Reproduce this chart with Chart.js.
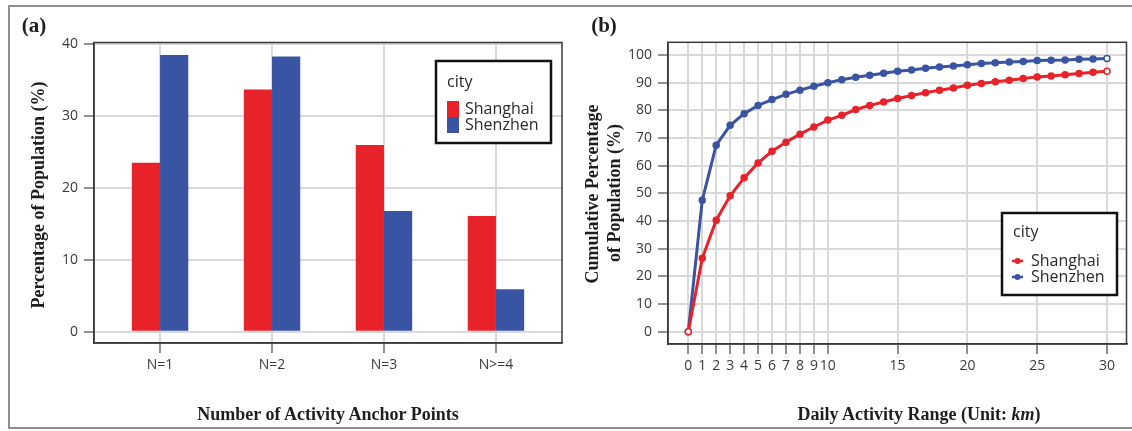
<!DOCTYPE html>
<html lang="en">
<head>
<meta charset="UTF-8">
<title>Activity anchor points and daily activity range</title>
<script src="https://cdn.jsdelivr.net/npm/chart.js@4.4.1/dist/chart.umd.min.js"></script>
<style>
  html, body { margin: 0; padding: 0; background: #fff; }
  body { width: 1132px; height: 431px; position: relative; overflow: hidden; }
  #frame { position: absolute; left: 8px; top: 5px; width: 1140px; height: 424px; border: 2px solid #8f8f8f; box-sizing: border-box; }
  canvas { position: absolute; top: 0; }
  .lbl { position: absolute; font-family: "Liberation Serif", "DejaVu Serif", serif; font-weight: bold; color: #1e1e1e; white-space: nowrap; transform: translate(-50%, -50%); }
  .panel-tag { font-size: 21px; }
  .axis-t { font-size: 18px; }
  .rot { transform: translate(-50%, -50%) rotate(-90deg); }
</style>
</head>
<body>
  <div id="frame"></div>
  <canvas id="anchorChart" width="566" height="431" style="left:0"></canvas>
  <canvas id="rangeChart" width="566" height="431" style="left:566px"></canvas>

  <div class="lbl panel-tag" style="left:34px; top:25px">(a)</div>
  <div class="lbl panel-tag" style="left:604px; top:25px">(b)</div>
  <div class="lbl axis-t rot" style="left:38px; top:195px">Percentage of Population (%)</div>
  <div class="lbl axis-t" style="left:328px; top:414px">Number of Activity Anchor Points</div>
  <div class="lbl axis-t rot" style="left:592px; top:194px">Cumulative Percentage</div>
  <div class="lbl axis-t rot" style="left:614px; top:193px">of Population (%)</div>
  <div class="lbl axis-t" style="left:919px; top:414px">Daily Activity Range (Unit: <i>km</i>)</div>

<script>
// data
const cities = ['Shanghai', 'Shenzhen'];
const categories = ['N=1', 'N=2', 'N=3', 'N>=4'];
const shanghaiShare = [23.5, 33.7, 26.0, 16.1];
const shenzhenShare = [38.5, 38.3, 16.8, 5.9];
const shareTicks = [0, 10, 20, 30, 40];

const rangeKm = [0, 1, 2, 3, 4, 5, 6, 7, 8, 9, 10, 11, 12, 13, 14, 15,
                 16, 17, 18, 19, 20, 21, 22, 23, 24, 25, 26, 27, 28, 29, 30];
const shanghaiCum = [0, 26.5, 40.3, 49.1, 55.6, 61.0, 65.2, 68.5, 71.4, 74.0, 76.5,
                     78.2, 80.3, 81.8, 83.0, 84.3, 85.4, 86.4, 87.3, 88.1, 89.1,
                     89.7, 90.3, 90.9, 91.5, 92.1, 92.4, 92.9, 93.3, 93.8, 94.1];
const shenzhenCum = [0, 47.5, 67.4, 74.6, 78.8, 81.8, 83.9, 85.8, 87.3, 88.7, 90.0,
                     91.1, 92.0, 92.7, 93.4, 94.1, 94.6, 95.2, 95.7, 96.0, 96.5,
                     96.9, 97.2, 97.5, 97.7, 98.0, 98.1, 98.2, 98.5, 98.6, 98.7];
const rangeTicks = [0, 1, 2, 3, 4, 5, 6, 7, 8, 9, 10, 15, 20, 25, 30];
const cumTicks = [0, 10, 20, 30, 40, 50, 60, 70, 80, 90, 100];

const RED = '#e8222a';
const BLUE = '#3a54a4';
const tickFont = { family: '"Open Sans", sans-serif', size: 14 };

// box round the plot area
const framePlugin = {
  id: 'frame',
  afterDatasetsDraw(chart) {
    const { ctx, chartArea: a } = chart;
    ctx.save();
    ctx.strokeStyle = '#3a3a3a';
    ctx.lineWidth = 1.5;
    ctx.strokeRect(a.left, a.top, a.right - a.left, a.bottom - a.top);
    ctx.restore();
  }
};

// boxed legend with "city" title
const cityLegend = {
  id: 'cityLegend',
  afterDraw(chart, args, o) {
    const ctx = chart.ctx;
    ctx.save();
    ctx.fillStyle = '#fff';
    ctx.fillRect(o.x, o.y, o.w, o.h);
    ctx.lineWidth = 2.5;
    ctx.strokeStyle = '#111';
    ctx.strokeRect(o.x, o.y, o.w, o.h);
    ctx.font = '16px "Open Sans", sans-serif';
    ctx.textBaseline = 'middle';
    ctx.fillStyle = '#2a2a2a';
    ctx.fillText('city', o.x + 11, o.titleY);
    chart.data.datasets.forEach((ds, i) => {
      const y = o.rowY[i];
      if (o.marker === 'rect') {
        ctx.fillStyle = ds.backgroundColor;
        ctx.fillRect(o.x + 11, y - 8, 12, 16);
      } else {
        ctx.strokeStyle = ds.borderColor;
        ctx.lineWidth = 2.5;
        ctx.beginPath();
        ctx.moveTo(o.x + 10, y);
        ctx.lineTo(o.x + 21, y);
        ctx.stroke();
        ctx.fillStyle = ds.borderColor;
        ctx.beginPath();
        ctx.arc(o.x + 15.5, y, 3, 0, Math.PI * 2);
        ctx.fill();
      }
      ctx.fillStyle = '#2a2a2a';
      ctx.fillText(ds.label, o.x + 29, y);
    });
    ctx.restore();
  }
};

const gridStyle = { color: '#d9d9d9', lineWidth: 2, tickColor: '#555', tickLength: 10, tickWidth: 1.3, offset: false };
const borderStyle = { display: true, color: '#3a3a3a', width: 1.5 };

// (a) bars
new Chart(document.getElementById('anchorChart'), {
  type: 'bar',
  data: {
    datasets: [
      { label: cities[0], data: categories.map((c, i) => ({ x: i + 1, y: shanghaiShare[i] })), backgroundColor: RED },
      { label: cities[1], data: categories.map((c, i) => ({ x: i + 1, y: shenzhenShare[i] })), backgroundColor: BLUE }
    ]
  },
  options: {
    responsive: false,
    animation: false,
    layout: { padding: { left: 0, top: 42.5, right: 4, bottom: 0 } },
    categoryPercentage: 0.504,
    barPercentage: 1,
    plugins: {
      legend: { display: false },
      tooltip: { enabled: false },
      cityLegend: { x: 436, y: 61, w: 115, h: 82, titleY: 82, rowY: [109, 125], marker: 'rect' }
    },
    scales: {
      x: {
        type: 'linear', min: 0.41, max: 4.59, offset: false,
        afterBuildTicks: s => { s.ticks = categories.map((c, i) => ({ value: i + 1 })); },
        afterFit: s => { s.height = 88; },
        ticks: { callback: v => categories[v - 1], font: tickFont, color: '#3a3a3a', padding: 4, maxRotation: 0, autoSkip: false },
        grid: gridStyle,
        border: borderStyle
      },
      y: {
        min: -1.57, max: 40.25,
        afterBuildTicks: s => { s.ticks = shareTicks.map(v => ({ value: v })); },
        afterFit: s => { s.width = 94; },
        ticks: { font: tickFont, color: '#3a3a3a', padding: 6 },
        grid: gridStyle,
        border: borderStyle
      }
    }
  },
  plugins: [framePlugin, cityLegend]
});

// (b) cumulative lines
const endFill = color => ctx => (ctx.dataIndex === 0 || ctx.dataIndex === rangeKm.length - 1) ? '#fff' : color;

new Chart(document.getElementById('rangeChart'), {
  type: 'line',
  data: {
    datasets: [
      { label: cities[0], data: rangeKm.map((x, i) => ({ x, y: shanghaiCum[i] })),
        borderColor: RED, borderWidth: 3, pointRadius: 3, pointBorderWidth: 1.5,
        pointBorderColor: RED, pointBackgroundColor: endFill(RED), tension: 0 },
      { label: cities[1], data: rangeKm.map((x, i) => ({ x, y: shenzhenCum[i] })),
        borderColor: BLUE, borderWidth: 3, pointRadius: 3, pointBorderWidth: 1.5,
        pointBorderColor: BLUE, pointBackgroundColor: endFill(BLUE), tension: 0 }
    ]
  },
  options: {
    responsive: false,
    animation: false,
    layout: { padding: { left: 0, top: 42.3, right: 5, bottom: 0 } },
    plugins: {
      legend: { display: false },
      tooltip: { enabled: false },
      cityLegend: { x: 436, y: 213, w: 115, h: 82, titleY: 232, rowY: [261, 277], marker: 'line' }
    },
    scales: {
      x: {
        type: 'linear', min: -1.453, max: 31.4,
        afterBuildTicks: s => { s.ticks = rangeTicks.map(v => ({ value: v })); },
        afterFit: s => { s.height = 87; },
        ticks: { font: tickFont, color: '#3a3a3a', padding: 4, maxRotation: 0, autoSkip: false },
        grid: gridStyle,
        border: borderStyle
      },
      y: {
        min: -4.45, max: 104.6,
        afterBuildTicks: s => { s.ticks = cumTicks.map(v => ({ value: v })); },
        afterFit: s => { s.width = 102; },
        ticks: { font: tickFont, color: '#3a3a3a', padding: 6 },
        grid: gridStyle,
        border: borderStyle
      }
    }
  },
  plugins: [framePlugin, cityLegend]
});
</script>
</body>
</html>
